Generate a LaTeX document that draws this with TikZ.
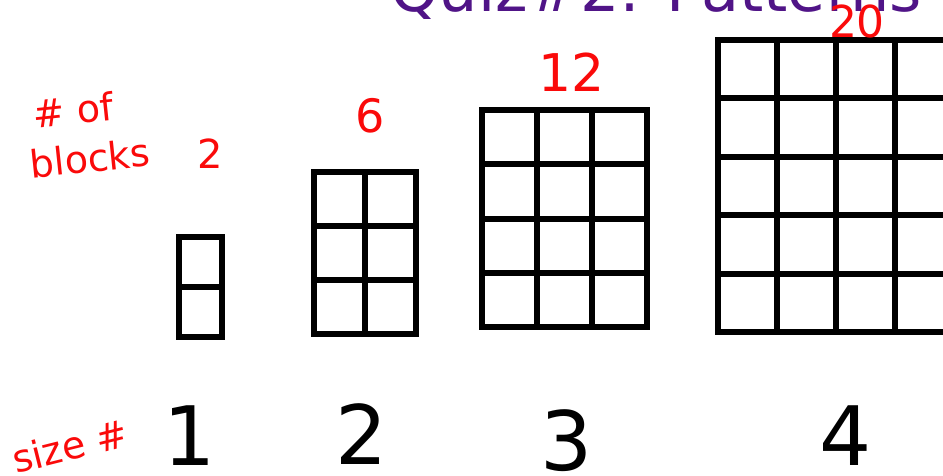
\documentclass[tikz,border=0pt]{standalone}
\usepackage{fontspec}
\setmainfont{DejaVu Sans}
\usepackage{tikz}
\usetikzlibrary{positioning}

\definecolor{quizpurple}{RGB}{80,20,135}
\definecolor{penred}{RGB}{250,10,10}

\begin{document}
\begin{tikzpicture}[x=1pt, y=-1pt,
    block/.style={draw=black, line width=6pt},
    sizenum/.style={anchor=base, inner sep=0pt, font=\fontsize{82}{90}\selectfont},
    count/.style={anchor=base, inner sep=0pt, text=penred},
    note/.style={inner sep=0pt, text=penred, font=\fontsize{38}{42}\selectfont}]
    \path[use as bounding box, clip] (0,0) rectangle (943,476);

    % title, cut off at the top
    \node[anchor=base west, inner sep=0pt, text=quizpurple,
          font=\fontsize{62}{66}\selectfont] (title) at (390,12) {Quiz\#2: Patterns};

    % size 1
    \foreach \r in {0,1}
        \draw[block] (179,{237+50*\r}) rectangle ++(43,50);
    % size 2
    \foreach \c in {0,1} \foreach \r in {0,1,2}
        \draw[block] ({314+51*\c},{172+54*\r}) rectangle ++(51,54);
    % size 3
    \foreach \c in {0,1,2} \foreach \r in {0,...,3}
        \draw[block] ({482+55*\c},{110+54.3*\r}) rectangle ++(55,54.3);
    % size 4
    \foreach \c in {0,...,3} \foreach \r in {0,...,4}
        \draw[block] ({718+59*\c},{40+58.4*\r}) rectangle ++(59,58.4);

    % number of blocks
    \node[count, font=\fontsize{40}{44}\selectfont] (n1) at (210,168) {2};
    \node[count, font=\fontsize{46}{50}\selectfont] (n2) at (370,133) {6};
    \node[count, font=\fontsize{52}{56}\selectfont] (n3) at (572,92) {12};
    \node[count, font=\fontsize{44}{48}\selectfont] (n4) at (857,38) {20};

    % size numbers
    \node[sizenum] (s1) at (190,465) {1};
    \node[sizenum] (s2) at (362,464) {2};
    \node[sizenum] (s3) at (567,470) {3};
    \node[sizenum] (s4) at (846,465) {4};

    % side notes
    \node[note, rotate=6] (ofLbl) at (73,110) {\# of};
    \node[note, rotate=6] (blocksLbl) at (90,158) {blocks};
    \node[note, rotate=14] (sizeLbl) at (70,446) {size \#};
\end{tikzpicture}
\end{document}
